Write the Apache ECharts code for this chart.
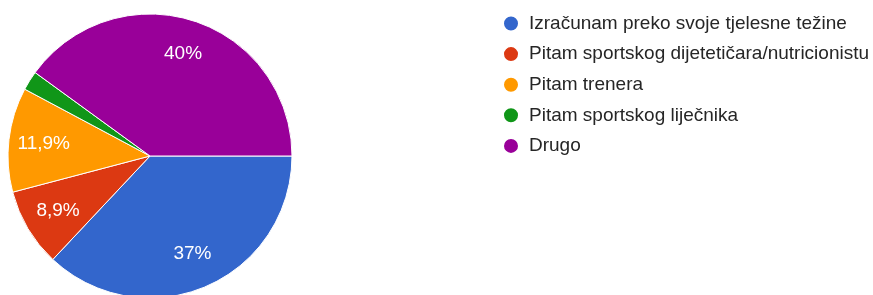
<!DOCTYPE html>
<html>
<head>
<meta charset="utf-8">
<script src="https://cdn.jsdelivr.net/npm/echarts@6/dist/echarts.min.js"></script>
<style>
  html, body { margin: 0; padding: 0; background: #fff; }
  #main { width: 873px; height: 295px; }
</style>
</head>
<body>
<div id="main"></div>
<script>
// answers and their share (%)
const categories = [
  'Izračunam preko svoje tjelesne težine',
  'Pitam sportskog dijetetičara/nutricionistu',
  'Pitam trenera',
  'Pitam sportskog liječnika',
  'Drugo'
];
const values = [37, 8.9, 11.9, 2.2, 40];
const colors = ['#3366cc', '#dc3912', '#ff9900', '#109618', '#990099'];

const FONT = 'Arial, "Liberation Sans", sans-serif';

let pieData = categories.map((name, i) => ({
  name: name,
  value: values[i],
  itemStyle: { color: colors[i] }
}));

// google hides labels on tiny slices
function pctLabel(p) {
  if (p.value < 5) return '';
  return String(p.value).replace('.', ',') + '%';
}

let chart = echarts.init(document.getElementById('main'), null, { renderer: 'canvas' });

chart.setOption({
  animation: false,
  backgroundColor: '#fff',
  legend: {
    orient: 'vertical',
    left: 497,
    top: 9,
    icon: 'circle',
    itemWidth: 16,
    itemHeight: 16,
    itemGap: 11.6,
    selectedMode: false,
    data: categories,
    textStyle: {
      fontFamily: FONT,
      fontSize: 19,
      lineHeight: 19,
      color: '#262626',
      padding: [0, 0, 0, 5]
    }
  },
  series: [
    {
      type: 'pie',
      center: [150, 156],
      radius: 142,
      startAngle: 0,
      clockwise: true,
      silent: true,
      label: { show: false },
      labelLine: { show: false },
      itemStyle: { borderColor: '#fff', borderWidth: 1 },
      data: pieData
    },
    {
      // transparent ring just to push the labels outward
      type: 'pie',
      center: [150, 156],
      radius: [66, 142],
      startAngle: 0,
      clockwise: true,
      silent: true,
      legendHoverLink: false,
      itemStyle: { color: 'transparent', borderWidth: 0 },
      label: {
        show: true,
        position: 'inside',
        formatter: pctLabel,
        color: '#fff',
        fontFamily: FONT,
        fontSize: 19
      },
      labelLine: { show: false },
      data: categories.map((name, i) => ({ name: name + ' ', value: values[i] }))
    }
  ]
});
</script>
</body>
</html>
